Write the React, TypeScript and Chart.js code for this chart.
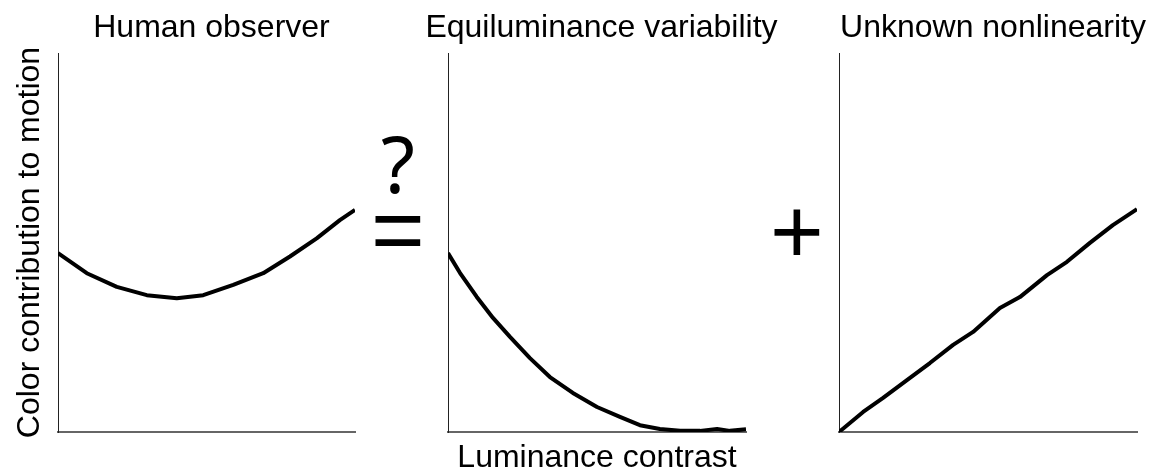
import React, { useEffect, useRef } from 'react';
import { Chart, registerables } from 'chart.js';

Chart.register(...registerables);

const FONT = '"Liberation Sans", Arial, Helvetica, sans-serif';

// ---- texts ----
const panelTitles = ['Human observer', 'Equiluminance variability', 'Unknown nonlinearity'];
const yAxisLabel = 'Color contribution to motion';
const xAxisLabel = 'Luminance contrast';
const operators = ['?', '=', '+'];

// ---- data (x: luminance contrast 0..1, y: color contribution 0..1) ----
const humanX = [0, 0.097, 0.198, 0.299, 0.4, 0.489, 0.59, 0.691, 0.781, 0.871, 0.949, 1.0];
const humanY = [0.472, 0.419, 0.383, 0.361, 0.353, 0.361, 0.388, 0.419, 0.463, 0.511, 0.559, 0.586];

const equiX = [0, 0.04, 0.096, 0.151, 0.208, 0.275, 0.342, 0.419, 0.5, 0.577, 0.644, 0.711, 0.779, 0.846, 0.903, 0.946, 1.0];
const equiY = [0.472, 0.42, 0.357, 0.301, 0.251, 0.195, 0.145, 0.103, 0.066, 0.04, 0.018, 0.008, 0.003, 0.003, 0.008, 0.003, 0.007];

const nonlinX = [0, 0.081, 0.148, 0.228, 0.305, 0.383, 0.45, 0.54, 0.607, 0.698, 0.765, 0.842, 0.919, 1.0];
const nonlinY = [0, 0.053, 0.09, 0.137, 0.182, 0.23, 0.264, 0.327, 0.356, 0.414, 0.449, 0.499, 0.546, 0.588];

type PanelProps = {
  xs: number[];
  ys: number[];
  left: number;
  width: number;
  pad: { left: number; right: number; top: number; bottom: number };
  yTitle?: string;
  xTitle?: string;
};

function Panel({ xs, ys, left, width, pad, yTitle, xTitle }: PanelProps) {
  const ref = useRef<HTMLCanvasElement | null>(null);
  useEffect(() => {
    if (!ref.current) return;
    const chart = new Chart(ref.current, {
      type: 'line',
      data: {
        datasets: [
          {
            data: xs.map((x, i) => ({ x, y: ys[i] })),
            borderColor: '#000',
            borderWidth: 4,
            pointRadius: 0,
            tension: 0,
            fill: false,
            borderJoinStyle: 'round',
          },
        ],
      },
      options: {
        animation: false,
        responsive: false,
        devicePixelRatio: 1,
        events: [],
        layout: { padding: pad },
        plugins: {
          legend: { display: false },
          tooltip: { enabled: false },
          title: { display: false },
        },
        scales: {
          x: {
            type: 'linear',
            min: 0,
            max: 1,
            grid: { display: false, drawTicks: false },
            ticks: { display: false },
            border: { display: true, color: '#666', width: 2 },
            title: xTitle
              ? {
                  display: true,
                  text: xTitle,
                  color: '#000',
                  font: { family: FONT, size: 32, lineHeight: 1 },
                  padding: { top: 10, bottom: -2 },
                }
              : { display: false },
          },
          y: {
            type: 'linear',
            min: 0,
            max: 1,
            grid: { display: false, drawTicks: false },
            ticks: { display: false },
            border: { display: true, color: '#222', width: 1 },
            title: yTitle
              ? {
                  display: true,
                  text: yTitle,
                  color: '#000',
                  font: { family: FONT, size: 32, lineHeight: 1 },
                  padding: { top: 14, bottom: 12 },
                }
              : { display: false },
          },
        },
      } as any,
    });
    return () => chart.destroy();
  }, []);
  return (
    <canvas
      ref={ref}
      width={width}
      height={472}
      style={{ position: 'absolute', left, top: 0, width, height: 472 }}
    />
  );
}

const titleCenters = [211.5, 601.5, 993];

export default function App() {
  useEffect(() => {
    document.body.style.margin = '0';
  }, []);
  const titleStyle = (cx: number): React.CSSProperties => ({
    position: 'absolute',
    left: cx - 250,
    width: 500,
    top: 10,
    textAlign: 'center',
    fontFamily: FONT,
    fontSize: 32,
    lineHeight: '32px',
    color: '#000',
    whiteSpace: 'nowrap',
  });
  return (
    <div
      style={{
        position: 'absolute',
        left: 0,
        top: 0,
        width: 1153,
        height: 472,
        overflow: 'hidden',
        background: '#fff',
      }}
    >
      <Panel xs={humanX} ys={humanY} left={0} width={380} pad={{ left: 0, right: 25, top: 53, bottom: 40 }} yTitle={yAxisLabel} />
      <Panel xs={equiX} ys={equiY} left={380} width={400} pad={{ left: 68, right: 34, top: 53, bottom: 0 }} xTitle={xAxisLabel} />
      <Panel xs={nonlinX} ys={nonlinY} left={780} width={373} pad={{ left: 59, right: 16, top: 53, bottom: 40 }} />
      {panelTitles.map((t, i) => (
        <div key={t} style={titleStyle(titleCenters[i])}>{t}</div>
      ))}
      <div style={{ position: 'absolute', left: 381, top: 124, fontFamily: '"Noto Sans", sans-serif', fontSize: 78, lineHeight: '78px', color: '#000' }}>{operators[0]}</div>
      <div style={{ position: 'absolute', left: 371, top: 184, fontFamily: FONT, fontSize: 92, lineHeight: '92px', color: '#000' }}>{operators[1]}</div>
      <div style={{ position: 'absolute', left: 770, top: 185, fontFamily: FONT, fontSize: 92, lineHeight: '92px', color: '#000' }}>{operators[2]}</div>
    </div>
  );
}
